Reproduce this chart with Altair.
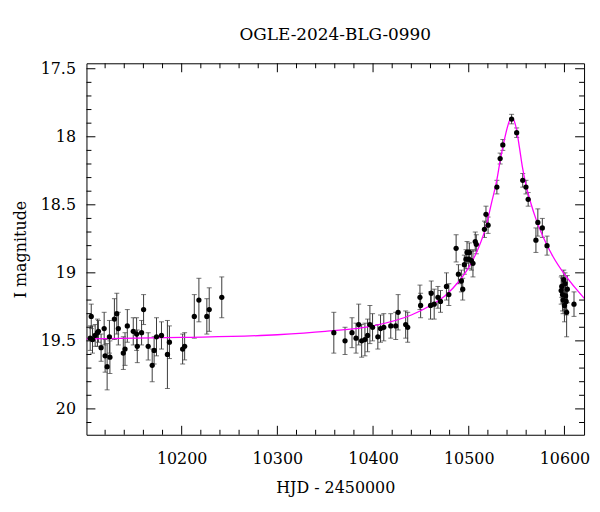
import altair as alt
import pandas as pd

# ---------------- data ----------------
hjd = [10104.4, 10105.5, 10106.8, 10109.6, 10112.0, 10113.0, 10115.8, 10119.0, 10120.0, 10122.1,
       10124.5, 10125.0, 10129.7, 10132.2, 10133.8, 10139.0, 10140.8, 10143.2, 10149.4, 10152.9,
       10153.6, 10158.1, 10160.2, 10165.0, 10169.2, 10171.2, 10173.7, 10178.9, 10185.1, 10187.2,
       10201.0, 10203.1, 10213.2, 10218.0, 10226.3, 10228.8, 10241.9,
       10359.0, 10370.7, 10378.0, 10382.2, 10385.0, 10388.1, 10391.5, 10394.3, 10396.7, 10399.5,
       10405.0, 10407.8, 10411.2, 10418.5, 10423.7, 10426.2, 10434.1, 10436.2, 10449.0, 10449.7,
       10460.1, 10460.8, 10463.9, 10467.8, 10470.5, 10476.7, 10479.2, 10486.8, 10489.2, 10492.3,
       10493.7, 10495.4, 10497.1, 10498.2, 10500.0, 10500.6, 10502.7, 10504.4, 10506.8, 10507.9,
       10516.4, 10518.0, 10520.2, 10529.4, 10532.8, 10535.6, 10544.8, 10550.1, 10556.4, 10559.8,
       10562.1, 10570.2, 10572.2, 10576.9, 10581.8,
       10596.6, 10597.2, 10598.0, 10598.6, 10599.3, 10600.0, 10600.6, 10601.2, 10601.8, 10602.3,
       10603.0, 10610.0]
mag = [19.48, 19.32, 19.49, 19.46, 19.44, 19.43, 19.55, 19.41, 19.61, 19.69,
       19.47, 19.62, 19.34, 19.30, 19.41, 19.59, 19.56, 19.39, 19.43, 19.45,
       19.54, 19.44, 19.27, 19.54, 19.68, 19.57, 19.47, 19.46, 19.60, 19.51,
       19.56, 19.54, 19.32, 19.20, 19.32, 19.27, 19.18,
       19.44, 19.50, 19.44, 19.48, 19.38, 19.50, 19.49, 19.46, 19.38, 19.40,
       19.47, 19.41, 19.40, 19.39, 19.39, 19.29, 19.38, 19.40, 19.18, 19.24,
       19.24, 19.15, 19.23, 19.18, 19.21, 19.10, 19.16, 18.82, 19.01, 19.06,
       19.12, 18.94, 18.90, 18.85, 18.90, 18.85, 18.91, 18.93, 18.77, 18.79,
       18.68, 18.57, 18.65, 18.37, 18.16, 18.06, 17.87, 17.97, 18.32, 18.37,
       18.46, 18.76, 18.63, 18.67, 18.80,
       19.13, 19.10, 19.16, 19.20, 19.05, 19.24, 19.08, 19.17, 19.21, 19.29,
       19.12, 19.23]
err = [0.09, 0.09, 0.10, 0.08, 0.10, 0.08, 0.10, 0.12, 0.12, 0.17,
       0.12, 0.12, 0.15, 0.15, 0.12, 0.12, 0.12, 0.12, 0.10, 0.12,
       0.12, 0.09, 0.11, 0.10, 0.12, 0.10, 0.14, 0.10, 0.25, 0.12,
       0.11, 0.10, 0.16, 0.16, 0.13, 0.16, 0.15,
       0.15, 0.10, 0.11, 0.11, 0.15, 0.12, 0.12, 0.12, 0.14, 0.10,
       0.09, 0.10, 0.10, 0.09, 0.10, 0.13, 0.10, 0.11, 0.09, 0.09,
       0.10, 0.09, 0.11, 0.08, 0.08, 0.10, 0.08, 0.10, 0.07, 0.08,
       0.08, 0.07, 0.07, 0.08, 0.07, 0.07, 0.07, 0.10, 0.07, 0.07,
       0.06, 0.06, 0.06, 0.05, 0.04, 0.04, 0.035, 0.035, 0.05, 0.05,
       0.05, 0.09, 0.10, 0.07, 0.07,
       0.10, 0.08, 0.12, 0.10, 0.07, 0.12, 0.08, 0.10, 0.10, 0.18,
       0.10, 0.09]

model_hjd = [10100, 10200, 10300, 10350, 10400, 10440, 10460, 10475, 10490, 10500,
             10510, 10518, 10524, 10529, 10533, 10537, 10540, 10543, 10545, 10547,
             10550, 10553, 10556, 10560, 10565, 10570, 10578, 10588, 10600, 10610, 10621]
model_mag = [19.485, 19.475, 19.455, 19.43, 19.39, 19.31, 19.24, 19.17, 19.06, 18.96,
             18.82, 18.66, 18.48, 18.33, 18.17, 18.03, 17.94, 17.875, 17.86, 17.875,
             17.95, 18.08, 18.22, 18.36, 18.49, 18.60, 18.74, 18.88, 19.01, 19.10, 19.19]

x_major = [10200, 10300, 10400, 10500, 10600]
x_minor = [10120, 10140, 10160, 10180, 10220, 10240, 10260, 10280, 10320, 10340, 10360, 10380,
           10420, 10440, 10460, 10480, 10520, 10540, 10560, 10580]
y_major = [17.5, 18, 18.5, 19, 19.5, 20]
y_minor = [17.6, 17.7, 17.8, 17.9, 18.1, 18.2, 18.3, 18.4, 18.6, 18.7, 18.8, 18.9,
           19.1, 19.2, 19.3, 19.4, 19.6, 19.7, 19.8, 19.9, 20.1]

df = pd.DataFrame({"hjd": hjd, "mag": mag, "err": err})
df["lo"] = df["mag"] - df["err"]
df["hi"] = df["mag"] + df["err"]
dm = pd.DataFrame({"hjd": model_hjd, "mag": model_mag})

FONT = "DejaVu Serif"
xs = alt.Scale(domain=[10100.5, 10620.5], nice=False, zero=False)
ys = alt.Scale(domain=[17.46, 20.19], reverse=True, nice=False, zero=False)

x_axis = alt.Axis(orient="bottom", values=x_major, format="d", ticks=False, domain=False,
                  grid=False, labelPadding=16, titlePadding=13, title="HJD - 2450000")
y_axis = alt.Axis(orient="left", values=y_major, labelExpr="'' + datum.value", ticks=False,
                  domain=False, grid=False, labelPadding=11, titlePadding=12,
                  title="I magnitude")


def X(field):
    return alt.X(field, type="quantitative", scale=xs, axis=x_axis)


def Y(field):
    return alt.Y(field, type="quantitative", scale=ys, axis=y_axis)


MAJ = 9
MIN = 5
BAR = "#3a3a3a"

stems = alt.Chart(df).mark_rule(color=BAR, strokeWidth=1).encode(
    x=X("hjd"), y=Y("lo"), y2="hi:Q")
caps_lo = alt.Chart(df).mark_tick(orient="horizontal", size=5, thickness=1, color=BAR).encode(
    x=X("hjd"), y=Y("lo"))
caps_hi = alt.Chart(df).mark_tick(orient="horizontal", size=5, thickness=1, color=BAR).encode(
    x=X("hjd"), y=Y("hi"))
curve = alt.Chart(dm).mark_line(color="#ff00ff", strokeWidth=1.3, interpolate="monotone",
                                clip=True).encode(x=X("hjd"), y=Y("mag"))
points = alt.Chart(df).mark_circle(color="black", size=28, opacity=1).encode(
    x=X("hjd"), y=Y("mag"))


# inward frame ticks, placed through the shared scales
def x_ticks(values, length, top):
    edge = alt.value(0) if top else alt.value("height")
    return alt.Chart(pd.DataFrame({"hjd": values})).mark_rule(
        color="black", strokeWidth=1, y2Offset=(length if top else -length)
    ).encode(x=X("hjd"), y=edge, y2=edge)


def y_ticks(values, length, right):
    edge = alt.value("width") if right else alt.value(0)
    return alt.Chart(pd.DataFrame({"mag": values})).mark_rule(
        color="black", strokeWidth=1, x2Offset=(-length if right else length)
    ).encode(y=Y("mag"), x=edge, x2=edge)


ticks = [
    x_ticks(x_major, MAJ, False), x_ticks(x_minor, MIN, False),
    x_ticks(x_major, MAJ, True), x_ticks(x_minor, MIN, True),
    y_ticks(y_major, MAJ, False), y_ticks(y_minor, MIN, False),
    y_ticks(y_major, MAJ, True), y_ticks(y_minor, MIN, True),
]

chart = alt.layer(stems, caps_lo, caps_hi, curve, points, *ticks).properties(
    width=501,
    height=374,
    title=alt.TitleParams("OGLE-2024-BLG-0990", font=FONT, fontSize=17, fontWeight="normal",
                          color="black", anchor="middle", frame="group", offset=17),
    autosize=alt.AutoSizeParams(type="none"),
    padding={"left": 79, "top": 54, "right": 8, "bottom": 62},
).configure_view(
    stroke="black", strokeWidth=1
).configure_axis(
    labelFont=FONT, labelFontSize=16, labelColor="black",
    titleFont=FONT, titleFontSize=16, titleFontWeight="normal", titleColor="black",
)

chart.save("out.html", embed_options={"renderer": "svg", "actions": False})
